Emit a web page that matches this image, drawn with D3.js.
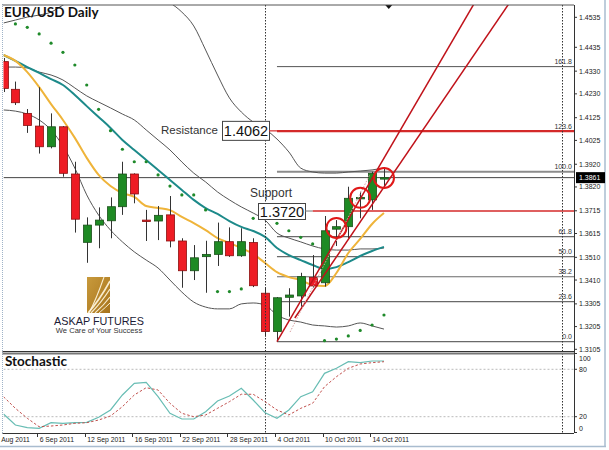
<!DOCTYPE html>
<html><head><meta charset="utf-8">
<script src="https://cdn.jsdelivr.net/npm/d3@7"></script>
<style>
html,body{margin:0;padding:0;background:#fff;}
svg{display:block;}
</style></head><body>
<svg id="c" width="609" height="450"></svg>
<script>
// ---------- DATA ----------
const dates = ["2011-09-01","2011-09-02","2011-09-05","2011-09-06","2011-09-07","2011-09-08","2011-09-09","2011-09-12","2011-09-13","2011-09-14","2011-09-15","2011-09-16","2011-09-19","2011-09-20","2011-09-21","2011-09-22","2011-09-23","2011-09-26","2011-09-27","2011-09-28","2011-09-29","2011-09-30","2011-10-03","2011-10-04","2011-10-05","2011-10-06","2011-10-07","2011-10-10","2011-10-11","2011-10-12","2011-10-13","2011-10-14","2011-10-17"];
const open  = [1.4372,1.4250,1.4144,1.4088,1.3997,1.4085,1.3877,1.3576,1.3652,1.3671,1.3733,1.3877,1.3674,1.3670,1.3697,1.3582,1.3451,1.3513,1.3523,1.3579,1.3517,1.3575,1.3352,1.3183,1.3334,1.3340,1.3421,1.3398,1.3634,1.3645,1.3770,1.3763,1.3858];
const high  = [1.4388,1.4284,1.4163,1.4259,1.4144,1.4088,1.3931,1.3686,1.3730,1.3774,1.3931,1.3880,1.3719,1.3736,1.3780,1.3594,1.3564,1.3583,1.3663,1.3642,1.3638,1.3594,1.3375,1.3335,1.3374,1.3442,1.3520,1.3692,1.3674,1.3821,1.3799,1.3887,1.3907];
const low   = [1.4238,1.4181,1.4058,1.3967,1.3990,1.3865,1.3619,1.3486,1.3550,1.3594,1.3697,1.3748,1.3582,1.3586,1.3554,1.3376,1.3410,1.3354,1.3472,1.3512,1.3512,1.3379,1.3161,1.3139,1.3249,1.3293,1.3377,1.3381,1.3560,1.3594,1.3682,1.3719,1.3814];
const close = [1.4254,1.4191,1.4091,1.3997,1.4085,1.3880,1.3678,1.3652,1.3674,1.3733,1.3877,1.3789,1.3670,1.3695,1.3582,1.3451,1.3508,1.3523,1.3579,1.3517,1.3579,1.3385,1.3183,1.3332,1.3344,1.3425,1.3384,1.3627,1.3645,1.3770,1.3774,1.3880,1.3861];

const maFast = [1.4401,1.4375,1.4326,1.4260,1.4185,1.4115,1.4036,1.3948,1.3873,1.3824,1.3793,1.3776,1.3736,1.3727,1.3718,1.3688,1.3661,1.3630,1.3595,1.3573,1.3551,1.3525,1.3485,1.3445,1.3423,1.3410,1.3388,1.3384,1.3441,1.3529,1.3591,1.3657,1.3705];
const maSlow = [1.4401,1.4375,1.4348,1.4322,1.4295,1.4269,1.4225,1.4176,1.4128,1.4080,1.4027,1.3983,1.3939,1.3895,1.3851,1.3807,1.3763,1.3727,1.3701,1.3670,1.3644,1.3626,1.3600,1.3551,1.3520,1.3498,1.3476,1.3459,1.3467,1.3489,1.3516,1.3538,1.3556];
const bbMid   = [1.4348,1.4348,1.4344,1.4326,1.4313,1.4291,1.4256,1.4221,1.4194,1.4168,1.4141,1.4115,1.4071,1.4027,1.3983,1.3930,1.3881,1.3842,1.3798,1.3763,1.3732,1.3705,1.3674,1.3617,1.3595,1.3578,1.3560,1.3547,1.3542,1.3542,1.3547,1.3547,1.3551];
const bbUpper = [1.4542,1.4555,1.4568,1.4577,1.4590,1.4621,1.4652,1.4679,1.4687,1.4696,1.4696,1.4687,1.4665,1.4648,1.4630,1.4590,1.4529,1.4423,1.4313,1.4212,1.4150,1.4106,1.4075,1.4031,1.3974,1.3903,1.3886,1.3881,1.3881,1.3886,1.3890,1.3895,1.3903];
const bbLower = [1.4159,1.4154,1.4141,1.4115,1.4071,1.4000,1.3903,1.3785,1.3696,1.3630,1.3578,1.3534,1.3498,1.3463,1.3410,1.3357,1.3313,1.3291,1.3283,1.3283,1.3305,1.3309,1.3300,1.3256,1.3234,1.3225,1.3212,1.3208,1.3203,1.3208,1.3221,1.3208,1.3194];
const sar = [null,1.4538,1.4523,1.4494,1.4453,1.4413,1.4357,1.4269,1.4162,1.4068,1.3986,1.3931,1.3931,1.3873,1.3824,1.3785,1.3785,1.3719,1.3359,1.3359,1.3371,1.3682,1.3683,1.3660,1.3627,1.3598,1.3569,1.3143,1.3150,1.3164,1.3188,1.3212,1.3256];

const stochK = [23.4,9.5,6.1,5.3,12.4,11.6,12.4,12.9,19.2,28.5,47.5,62.3,63.5,45.3,24.3,17.1,17.1,26.3,39.9,46.2,55.9,41.1,25.1,18.0,28.5,45.3,51.6,74.9,81.3,89.6,88.4,90.5,90.5];
const stochD = [45.3,30.6,18.0,7.3,8.2,9.5,11.6,12.4,15.8,20.9,32.7,47.5,56.7,53.8,37.0,24.3,20.0,22.2,30.6,39.0,48.4,48.4,39.0,28.5,22.2,30.6,37.0,58.0,70.6,81.3,86.7,88.4,89.6];

const dateTickIdx = [-1,3,7,11,15,19,23,27,31];
const dateTickLabels = ["31 Aug 2011","6 Sep 2011","12 Sep 2011","16 Sep 2011","22 Sep 2011","28 Sep 2011","4 Oct 2011","10 Oct 2011","14 Oct 2011"];
const priceTicks = [1.4567,1.4435,1.4330,1.4230,1.4125,1.4025,1.3920,1.3820,1.3715,1.3615,1.3510,1.3410,1.3305,1.3205,1.3105];
const priceTickLabels = ["1.4535","1.4435","1.4330","1.4230","1.4125","1.4025","1.3920","1.3820","1.3715","1.3615","1.3510","1.3410","1.3305","1.3205","1.3105"];
const stochTicks = [100,80,20,0];
const stochLevels = [80,20];

const fibLevels = [0,23.6,38.2,50,61.8,100,123.6,161.8];
const fibLabels = ["0.0","23.6","38.2","50.0","61.8","100.0","123.6","161.8"];
const fibLowPrice = 1.31385, fibHighPrice = 1.38872, fibStartIdx = 23;

const lastPrice = 1.3861;
const resistance = {label:"1.4062", price:1.4067, startIdx:23};
const support = {label:"1.3720", price:1.3714, startIdx:26};
const channelA = [[23,1.3139],[39.51,1.4621]];
const channelB = [[24.5,1.3243],[42.43,1.4621]];
const trendDotted = [[24.1,1.3181],[30.8,1.3873]];
const circledIdx = [28,30,32];

// ---------- LAYOUT ----------
const L = 3.5, R = 574, T = 5, B = 351;
const ST = 354, SB = 433;
const svg = d3.select("#c");

const x = d3.scaleLinear().domain([0,32]).range([3.5, 3.5+32*11.89]);
const y = d3.scaleLinear().domain([1.3105,1.4435]).range([349.3,47.3]);
const ys = d3.scaleLinear().domain([0,100]).range([432.5,353.5]);

const defs = svg.append("defs");
defs.append("clipPath").attr("id","mainClip").append("rect").attr("x",L).attr("y",T).attr("width",R-L).attr("height",B-T);
defs.append("clipPath").attr("id","stClip").append("rect").attr("x",L).attr("y",ST).attr("width",R-L).attr("height",SB-ST);
const grad = defs.append("linearGradient").attr("id","gold").attr("x1","0").attr("y1","0").attr("x2","1").attr("y2","1");
grad.append("stop").attr("offset","0").attr("stop-color","#c89a3c");
grad.append("stop").attr("offset","1").attr("stop-color","#a8741c");

// outer frame
svg.append("line").attr("x1",605).attr("x2",605).attr("y1",0).attr("y2",447).attr("stroke","#a9bccf").attr("stroke-width",1.5);
svg.append("line").attr("x1",0).attr("x2",606).attr("y1",446.5).attr("y2",446.5).attr("stroke","#a9bccf").attr("stroke-width",1.5);
svg.append("line").attr("x1",2.5).attr("x2",2.5).attr("y1",4).attr("y2",434).attr("stroke","#9fb3c8").attr("stroke-dasharray","1,1");

const main = svg.append("g").attr("clip-path","url(#mainClip)");

// logo
const logo = svg.append("g");
logo.append("rect").attr("x",87).attr("y",277).attr("width",23).attr("height",36).attr("fill","url(#gold)");
[["M88,313 Q99,301 110,281",1.6],["M91,313 Q101,303 110,289",1.3],["M95,313 Q104,305 110,297",1.2],["M99,313 Q106,307 110,303",1],["M89,313 Q96,300 104,277",1.1]].forEach(([d,w])=>{
  logo.append("path").attr("d",d).attr("fill","none").attr("stroke","#fff7e0").attr("stroke-width",w).attr("opacity",0.9);
});
logo.append("text").attr("x",99).attr("y",325).attr("text-anchor","middle").attr("font-family","Liberation Sans, Arial, sans-serif").attr("font-size",10.8).attr("fill","#1b1b35").text("ASKAP FUTURES");
logo.append("text").attr("x",99).attr("y",332.5).attr("text-anchor","middle").attr("font-family","Liberation Sans, Arial, sans-serif").attr("font-size",7.6).attr("fill","#333").text("We Care of Your Success");

// horizontal fib lines
fibLevels.forEach((lv,k)=>{
  const p = fibLowPrice + (fibHighPrice-fibLowPrice)*lv/100;
  const yy = y(p);
  let col = "#6a6a6a", w = 1.2;
  if (lv===100) {col="#8c8c8c"; w=2;}
  if (lv===123.6) {col="#d42a2a"; w=1.5;}
  if (lv===161.8) {col="#555"; w=1;}
  main.append("line").attr("x1",x(fibStartIdx)).attr("x2",R).attr("y1",yy).attr("y2",yy).attr("stroke",col).attr("stroke-width",w);
  svg.append("text").attr("x",R-2).attr("y",yy-3).attr("text-anchor","end").attr("font-family","Liberation Sans, Arial, sans-serif").attr("font-size",7).attr("fill","#333").text(fibLabels[k]);
});

// last price line
main.append("line").attr("x1",L).attr("x2",R).attr("y1",y(lastPrice)).attr("y2",y(lastPrice)).attr("stroke","#444").attr("stroke-width",1);

// resistance & support lines
main.append("line").attr("x1",x(resistance.startIdx)).attr("x2",R).attr("y1",y(resistance.price)).attr("y2",y(resistance.price)).attr("stroke","#d42a2a").attr("stroke-width",1.5);
main.append("line").attr("x1",x(support.startIdx)).attr("x2",R).attr("y1",y(support.price)).attr("y2",y(support.price)).attr("stroke","#d42a2a").attr("stroke-width",1.5);

// vertical dotted lines
[22,47].forEach(i=>{
  svg.append("line").attr("x1",Math.round(x(i))+0.5).attr("x2",Math.round(x(i))+0.5).attr("y1",T).attr("y2",SB).attr("stroke","#333").attr("stroke-width",1).attr("stroke-dasharray","1.5,1.5");
});

// Bollinger & MAs
const ln = d3.line().x((d,i)=>x(i)).y(d=>y(d)).curve(d3.curveMonotoneX);
[[bbUpper,"#555",1],[bbMid,"#555",1],[bbLower,"#555",1],[maSlow,"#1d8a8a",2],[maFast,"#efb43a",2]].forEach(([arr,c,w])=>{
  main.append("path").datum(arr).attr("d",ln).attr("fill","none").attr("stroke",c).attr("stroke-width",w);
});

// SAR dots
main.selectAll(".sar").data(sar.map((v,i)=>[i,v]).filter(d=>d[1]!==null)).join("circle")
  .attr("cx",d=>x(d[0])).attr("cy",d=>y(d[1])).attr("r",1.6).attr("fill","#1f8a2a");

// candles
const candles = main.selectAll(".cd").data(dates.map((d,i)=>i)).join("g");
candles.append("line").attr("x1",i=>Math.round(x(i))+0.5).attr("x2",i=>Math.round(x(i))+0.5)
  .attr("y1",i=>y(high[i])).attr("y2",i=>y(low[i])).attr("stroke","#333").attr("stroke-width",1);
candles.append("rect").attr("x",i=>Math.round(x(i))-3.5).attr("width",8)
  .attr("y",i=>y(Math.max(open[i],close[i])))
  .attr("height",i=>Math.max(1.5,Math.abs(y(open[i])-y(close[i]))))
  .attr("fill",i=>close[i]>=open[i]?"#1e8a24":"#ee1c24")
  .attr("stroke",i=>close[i]>=open[i]?"#1a4f1a":"#8a1010").attr("stroke-width",0.8);

// channel
const chLine = d3.line().x(d=>x(d[0])).y(d=>y(d[1]));
function extend(pts){ const [a,b]=pts; const k=(b[1]-a[1])/(b[0]-a[0]); const e=b[0]+6; return [a,[e,b[1]+k*(e-b[0])]]; }
[channelA,channelB].forEach(c=>{
  main.append("path").datum(extend(c)).attr("d",chLine).attr("fill","none").attr("stroke","#c0121a").attr("stroke-width",1.5);
});
main.append("path").datum(trendDotted).attr("d",chLine).attr("fill","none").attr("stroke","#d8a0a0").attr("stroke-width",1).attr("stroke-dasharray","1.5,1.5");

// circles
main.selectAll(".circ").data(circledIdx).join("circle")
  .attr("cx",i=>x(i)).attr("cy",i=>y((open[i]+close[i])/2)).attr("r",10)
  .attr("fill","none").attr("stroke","#e01818").attr("stroke-width",2);

// Resistance / Support labels
const ff = "Liberation Sans, Arial, sans-serif";
svg.append("text").attr("x",161).attr("y",y(resistance.price)+3).attr("font-family",ff).attr("font-size",11.5).attr("fill","#333").text("Resistance");
const rb = {x:222,w:47,h:19};
svg.append("rect").attr("x",rb.x+0.5).attr("y",y(resistance.price)-10+0.5).attr("width",rb.w).attr("height",rb.h).attr("fill","#fff").attr("stroke","#444");
svg.append("text").attr("x",rb.x+rb.w/2+0.5).attr("y",y(resistance.price)+5.5).attr("text-anchor","middle").attr("font-family",ff).attr("font-size",14.5).attr("fill","#111").text(resistance.label);
svg.append("line").attr("x1",rb.x+rb.w).attr("x2",x(resistance.startIdx)).attr("y1",y(resistance.price)).attr("y2",y(resistance.price)).attr("stroke","#d42a2a").attr("stroke-width",1.2);

svg.append("text").attr("x",250).attr("y",197).attr("font-family",ff).attr("font-size",12).attr("fill","#333").text("Support");
const sb = {x:258,w:47,h:16};
svg.append("rect").attr("x",sb.x+0.5).attr("y",203.5).attr("width",sb.w).attr("height",sb.h).attr("fill","#fff").attr("stroke","#444");
svg.append("text").attr("x",sb.x+sb.w/2+0.5).attr("y",217).attr("text-anchor","middle").attr("font-family",ff).attr("font-size",14.5).attr("fill","#111").text(support.label);
svg.append("line").attr("x1",sb.x+sb.w).attr("x2",x(support.startIdx)).attr("y1",y(support.price)).attr("y2",y(support.price)).attr("stroke","#777").attr("stroke-width",1);

// title
svg.append("text").attr("x",4).attr("y",17).attr("font-family","Lato, 'Open Sans', sans-serif").attr("font-weight","bold").attr("font-size",13.5).attr("fill","#111").text("EUR/USD Daily");

// shift marker
svg.append("path").attr("d",`M${x(32.4)-3.5},5 L${x(32.4)+3.5},5 L${x(32.4)},9 Z`).attr("fill","#111");

// main frame
svg.append("line").attr("x1",L-1).attr("x2",R).attr("y1",T).attr("y2",T).attr("stroke","#555").attr("stroke-width",1);
svg.append("line").attr("x1",R+0.5).attr("x2",R+0.5).attr("y1",T).attr("y2",SB).attr("stroke","#333").attr("stroke-width",1);
svg.append("line").attr("x1",L-1).attr("x2",R).attr("y1",B+0.5).attr("y2",B+0.5).attr("stroke","#333").attr("stroke-width",1);
svg.append("rect").attr("x",L-1).attr("y",B+1.5).attr("width",R-L+1.5).attr("height",2).attr("fill","#777");
svg.append("line").attr("x1",L-1).attr("x2",R).attr("y1",SB+0.5).attr("y2",SB+0.5).attr("stroke","#333").attr("stroke-width",1);

// price axis
const pAxis = svg.append("g");
priceTicks.forEach((p,k)=>{
  const yy = y(p);
  pAxis.append("line").attr("x1",R).attr("x2",R+3).attr("y1",yy).attr("y2",yy).attr("stroke","#333");
  pAxis.append("text").attr("x",R+5).attr("y",yy+2.5).attr("font-family",ff).attr("font-size",7).attr("fill","#222").text(priceTickLabels[k]);
});
pAxis.append("rect").attr("x",R+2).attr("y",y(lastPrice)-5.5).attr("width",29).attr("height",11).attr("fill","#000");
pAxis.append("text").attr("x",R+5).attr("y",y(lastPrice)+2.5).attr("font-family",ff).attr("font-size",7).attr("fill","#fff").text(lastPrice.toFixed(4));

// stochastic panel
const st = svg.append("g").attr("clip-path","url(#stClip)");
stochLevels.forEach(v=>{
  st.append("line").attr("x1",L).attr("x2",R).attr("y1",ys(v)).attr("y2",ys(v)).attr("stroke","#bbb").attr("stroke-dasharray","2,2");
});
const sl = d3.line().x((d,i)=>x(i)).y(d=>ys(d));
st.append("path").datum(stochK).attr("d",sl).attr("fill","none").attr("stroke","#68bdb4").attr("stroke-width",1.2);
st.append("path").datum(stochD).attr("d",sl).attr("fill","none").attr("stroke","#c0504d").attr("stroke-width",1).attr("stroke-dasharray","2.5,2");
svg.append("text").attr("x",5).attr("y",366).attr("font-family","Lato, 'Open Sans', sans-serif").attr("font-weight","bold").attr("font-size",13.5).attr("fill","#111").text("Stochastic");
stochTicks.forEach(v=>{
  const yy = v===100?358:v===0?428.5:ys(v);
  svg.append("line").attr("x1",R).attr("x2",R+3).attr("y1",ys(v)).attr("y2",ys(v)).attr("stroke","#333");
  svg.append("text").attr("x",R+5).attr("y",yy+2.5).attr("font-family",ff).attr("font-size",7).attr("fill","#222").text(v);
});

// date axis
dateTickIdx.forEach((i,k)=>{
  const xx = Math.round(x(i))-1.5;
  svg.append("line").attr("x1",xx).attr("x2",xx).attr("y1",SB).attr("y2",SB+4).attr("stroke","#333");
  svg.append("text").attr("x",x(i)+0.5).attr("y",442).attr("font-family",ff).attr("font-size",6.8).attr("fill","#222").text(dateTickLabels[k]);
});
</script>
</body></html>
